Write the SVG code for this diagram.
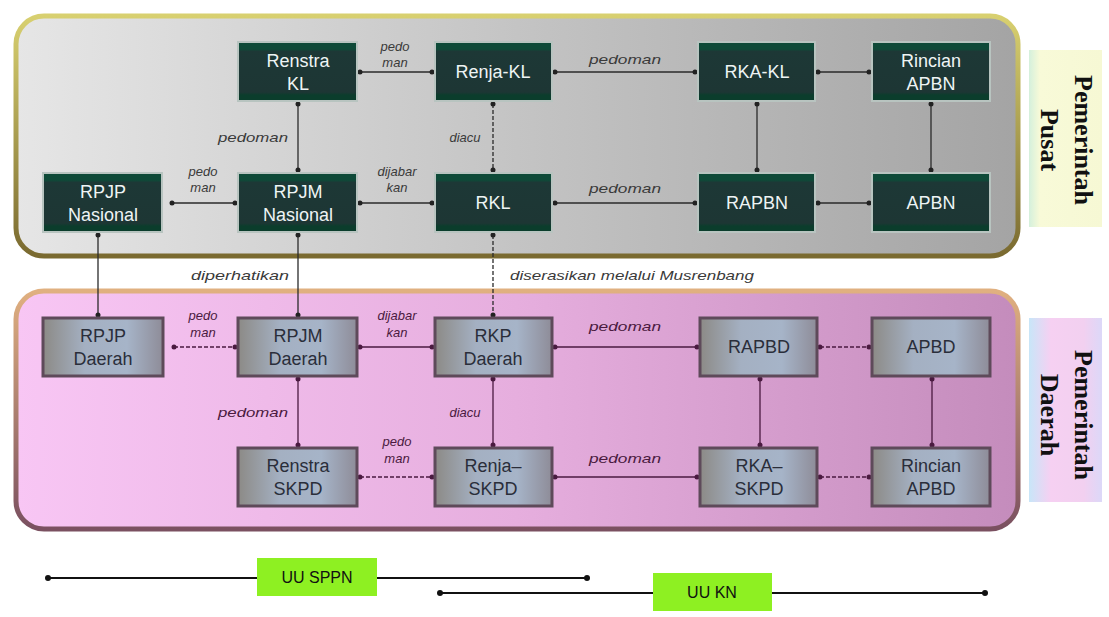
<svg xmlns="http://www.w3.org/2000/svg" width="1109" height="617" viewBox="0 0 1109 617">
<defs>
<linearGradient id="gTop" x1="0" y1="0" x2="1" y2="0">
<stop offset="0" stop-color="#e6e6e6"/><stop offset="0.5" stop-color="#c4c4c4"/><stop offset="1" stop-color="#a4a4a4"/>
</linearGradient>
<linearGradient id="gTopBorder" x1="0" y1="0" x2="0" y2="1">
<stop offset="0" stop-color="#d8d070"/><stop offset="1" stop-color="#7a6a30"/>
</linearGradient>
<linearGradient id="gBot" x1="0" y1="0" x2="1" y2="0">
<stop offset="0" stop-color="#f8c6f4"/><stop offset="0.5" stop-color="#e6aede"/><stop offset="1" stop-color="#c48cbc"/>
</linearGradient>
<linearGradient id="gBotBorder" x1="0" y1="0" x2="0" y2="1">
<stop offset="0" stop-color="#e0b080"/><stop offset="1" stop-color="#7a5060"/>
</linearGradient>
<linearGradient id="gDark" x1="0" y1="0" x2="0" y2="1">
<stop offset="0" stop-color="#0e4a38"/><stop offset="0.12" stop-color="#0e4a38"/><stop offset="0.16" stop-color="#1d3836"/><stop offset="0.85" stop-color="#1d3634"/><stop offset="0.9" stop-color="#0b3d2c"/><stop offset="1" stop-color="#0b3d2c"/>
</linearGradient>
<linearGradient id="gLight" x1="0" y1="0" x2="1" y2="0">
<stop offset="0" stop-color="#8c8a86"/><stop offset="0.35" stop-color="#a4b0c2"/><stop offset="0.7" stop-color="#a6b4c8"/><stop offset="1" stop-color="#8e8c98"/>
</linearGradient>
<linearGradient id="gPusat" x1="0" y1="0" x2="1" y2="0">
<stop offset="0" stop-color="#d4f0dc"/><stop offset="0.15" stop-color="#f8fad8"/><stop offset="1" stop-color="#f6f8d4"/>
</linearGradient>
<linearGradient id="gDaerah" x1="0" y1="0" x2="1" y2="0">
<stop offset="0" stop-color="#c8e6f8"/><stop offset="0.3" stop-color="#f6d0f2"/><stop offset="0.75" stop-color="#f2d0f0"/><stop offset="1" stop-color="#dcd8f8"/>
</linearGradient>
<marker id="dotT" viewBox="0 0 6 6" refX="3" refY="3" markerWidth="6" markerHeight="6" markerUnits="userSpaceOnUse"><circle cx="3" cy="3" r="2.5" fill="#222"/></marker>
<marker id="dotB" viewBox="0 0 6 6" refX="3" refY="3" markerWidth="6" markerHeight="6" markerUnits="userSpaceOnUse"><circle cx="3" cy="3" r="2.5" fill="#4a1a40"/></marker>
<marker id="dotL" viewBox="0 0 8 8" refX="4" refY="4" markerWidth="8" markerHeight="8" markerUnits="userSpaceOnUse"><circle cx="4" cy="4" r="3" fill="#111"/></marker>
</defs>
<style>
.dark rect.b{fill:url(#gDark);stroke:#b8c4c0;stroke-width:2}
.dark text{fill:#eef4f4;font-family:"Liberation Sans",Arial,sans-serif;font-size:18px;text-anchor:middle}
.light rect.b{fill:url(#gLight);stroke:#5e4a5a;stroke-width:3}
.light text{fill:#2a2e3a;font-family:"Liberation Sans",Arial,sans-serif;font-size:18px;text-anchor:middle}
.ct{stroke:#2a2a2a;stroke-width:1.3;fill:none;marker-start:url(#dotT);marker-end:url(#dotT)}
.cb{stroke:#4a1a40;stroke-width:1.3;fill:none;marker-start:url(#dotB);marker-end:url(#dotB)}
.dash{stroke-dasharray:4 2}
.lt{font-family:"Liberation Sans",Arial,sans-serif;font-style:italic;font-size:13px;fill:#3a3a3a;text-anchor:middle}
.lb{font-family:"Liberation Sans",Arial,sans-serif;font-style:italic;font-size:13px;fill:#4a1a40;text-anchor:middle}
.side{font-family:"Liberation Serif","Times New Roman",serif;font-weight:bold;font-size:26px;fill:#111;text-anchor:middle}
.leg{stroke:#111;stroke-width:2;marker-start:url(#dotL);marker-end:url(#dotL)}
.uu{fill:#8ef022}
.uut{font-family:"Liberation Sans",Arial,sans-serif;font-size:16px;fill:#111;text-anchor:middle}
</style>

<g id="panels">
<rect x="16" y="16" width="1002" height="240" rx="28" fill="url(#gTop)" stroke="url(#gTopBorder)" stroke-width="5"/>
<rect x="16" y="291" width="1002" height="238" rx="28" fill="url(#gBot)" stroke="url(#gBotBorder)" stroke-width="5"/>
</g>

<g id="side-pusat">
<rect x="1029" y="50" width="73" height="177" fill="url(#gPusat)"/>
<text class="side" transform="translate(1075,140) rotate(90)">Pemerintah</text>
<text class="side" transform="translate(1041,140) rotate(90)">Pusat</text>
</g>
<g id="side-daerah">
<rect x="1029" y="318" width="73" height="184" fill="url(#gDaerah)"/>
<text class="side" transform="translate(1075,415) rotate(90)">Pemerintah</text>
<text class="side" transform="translate(1041,415) rotate(90)">Daerah</text>
</g>

<g id="connectors">
<line class="ct" x1="360" y1="72" x2="432" y2="72"/>
<line class="ct" x1="555" y1="72" x2="695" y2="72"/>
<line class="ct" x1="818" y1="72" x2="869" y2="72"/>
<line class="ct" x1="172" y1="203" x2="235" y2="203"/>
<line class="ct" x1="360" y1="203" x2="432" y2="203"/>
<line class="ct" x1="555" y1="203" x2="695" y2="203"/>
<line class="ct" x1="818" y1="203" x2="869" y2="203"/>
<line class="ct" x1="298" y1="104" x2="298" y2="170"/>
<line class="ct dash" x1="493" y1="104" x2="493" y2="170"/>
<line class="ct" x1="757" y1="104" x2="757" y2="170"/>
<line class="ct" x1="931" y1="104" x2="931" y2="170"/>
<line class="ct" x1="98" y1="235" x2="98" y2="315"/>
<line class="ct" x1="298" y1="235" x2="298" y2="315"/>
<line class="ct dash" x1="493" y1="235" x2="493" y2="315"/>
<line class="cb dash" x1="174" y1="347" x2="235" y2="347"/>
<line class="cb" x1="360" y1="347" x2="432" y2="347"/>
<line class="cb" x1="555" y1="347" x2="697" y2="347"/>
<line class="cb dash" x1="820" y1="347" x2="869" y2="347"/>
<line class="cb" x1="298" y1="379" x2="298" y2="445"/>
<line class="cb" x1="493" y1="379" x2="493" y2="445"/>
<line class="cb" x1="760" y1="379" x2="760" y2="445"/>
<line class="cb" x1="932" y1="379" x2="932" y2="445"/>
<line class="cb dash" x1="360" y1="477" x2="432" y2="477"/>
<line class="cb" x1="555" y1="477" x2="697" y2="477"/>
<line class="cb dash" x1="820" y1="477" x2="869" y2="477"/>
</g>

<g id="connector-labels">
<text class="lt" x="395" y="51">pedo</text>
<text class="lt" x="395" y="67">man</text>
<text class="lt" x="625" y="64" textLength="72" lengthAdjust="spacingAndGlyphs">pedoman</text>
<text class="lt" x="253" y="142" textLength="70" lengthAdjust="spacingAndGlyphs">pedoman</text>
<text class="lt" x="465" y="142">diacu</text>
<text class="lt" x="203" y="176">pedo</text>
<text class="lt" x="203" y="192">man</text>
<text class="lt" x="397" y="176">dijabar</text>
<text class="lt" x="397" y="192">kan</text>
<text class="lt" x="625" y="193" textLength="72" lengthAdjust="spacingAndGlyphs">pedoman</text>
<text class="lt" x="240" y="280" textLength="98" lengthAdjust="spacingAndGlyphs">diperhatikan</text>
<text class="lt" x="632" y="280" textLength="244" lengthAdjust="spacingAndGlyphs">diserasikan melalui Musrenbang</text>
<text class="lb" x="203" y="320">pedo</text>
<text class="lb" x="203" y="337">man</text>
<text class="lb" x="397" y="320">dijabar</text>
<text class="lb" x="397" y="337">kan</text>
<text class="lb" x="625" y="331" textLength="72" lengthAdjust="spacingAndGlyphs">pedoman</text>
<text class="lb" x="253" y="417" textLength="70" lengthAdjust="spacingAndGlyphs">pedoman</text>
<text class="lb" x="465" y="417">diacu</text>
<text class="lb" x="397" y="446">pedo</text>
<text class="lb" x="397" y="463">man</text>
<text class="lb" x="625" y="463" textLength="72" lengthAdjust="spacingAndGlyphs">pedoman</text>
</g>

<g id="renstra-kl" class="dark"><rect class="b" x="238" y="42" width="119" height="59"/><text x="298" y="67">Renstra</text><text x="298" y="90">KL</text></g>
<g id="renja-kl" class="dark"><rect class="b" x="435" y="42" width="117" height="59"/><text x="493" y="78">Renja-KL</text></g>
<g id="rka-kl" class="dark"><rect class="b" x="698" y="42" width="117" height="59"/><text x="757" y="78">RKA-KL</text></g>
<g id="rincian-apbn" class="dark"><rect class="b" x="872" y="42" width="118" height="59"/><text x="931" y="67">Rincian</text><text x="931" y="90">APBN</text></g>
<g id="rpjp-nasional" class="dark"><rect class="b" x="43" y="173" width="119" height="59"/><text x="103" y="198">RPJP</text><text x="103" y="221">Nasional</text></g>
<g id="rpjm-nasional" class="dark"><rect class="b" x="238" y="173" width="119" height="59"/><text x="298" y="198">RPJM</text><text x="298" y="221">Nasional</text></g>
<g id="rkl" class="dark"><rect class="b" x="435" y="173" width="117" height="59"/><text x="493" y="209">RKL</text></g>
<g id="rapbn" class="dark"><rect class="b" x="698" y="173" width="117" height="59"/><text x="757" y="209">RAPBN</text></g>
<g id="apbn" class="dark"><rect class="b" x="872" y="173" width="118" height="59"/><text x="931" y="209">APBN</text></g>

<g id="rpjp-daerah" class="light"><rect class="b" x="43" y="318" width="120" height="58"/><text x="103" y="342">RPJP</text><text x="103" y="365">Daerah</text></g>
<g id="rpjm-daerah" class="light"><rect class="b" x="238" y="318" width="119" height="58"/><text x="298" y="342">RPJM</text><text x="298" y="365">Daerah</text></g>
<g id="rkp-daerah" class="light"><rect class="b" x="435" y="318" width="117" height="58"/><text x="493" y="342">RKP</text><text x="493" y="365">Daerah</text></g>
<g id="rapbd" class="light"><rect class="b" x="700" y="318" width="117" height="58"/><text x="759" y="353">RAPBD</text></g>
<g id="apbd" class="light"><rect class="b" x="872" y="318" width="118" height="58"/><text x="931" y="353">APBD</text></g>
<g id="renstra-skpd" class="light"><rect class="b" x="238" y="448" width="119" height="58"/><text x="298" y="472">Renstra</text><text x="298" y="495">SKPD</text></g>
<g id="renja-skpd" class="light"><rect class="b" x="435" y="448" width="117" height="58"/><text x="493" y="472">Renja–</text><text x="493" y="495">SKPD</text></g>
<g id="rka-skpd" class="light"><rect class="b" x="700" y="448" width="117" height="58"/><text x="759" y="472">RKA–</text><text x="759" y="495">SKPD</text></g>
<g id="rincian-apbd" class="light"><rect class="b" x="872" y="448" width="118" height="58"/><text x="931" y="472">Rincian</text><text x="931" y="495">APBD</text></g>

<g id="legend">
<line class="leg" x1="48" y1="578" x2="587" y2="578"/>
<line class="leg" x1="440" y1="593" x2="985" y2="593"/>
</g>
<g id="uu-sppn"><rect class="uu" x="257" y="558" width="120" height="38"/><text class="uut" x="317" y="583">UU SPPN</text></g>
<g id="uu-kn"><rect class="uu" x="653" y="573" width="119" height="38"/><text class="uut" x="712" y="598">UU KN</text></g>
</svg>
